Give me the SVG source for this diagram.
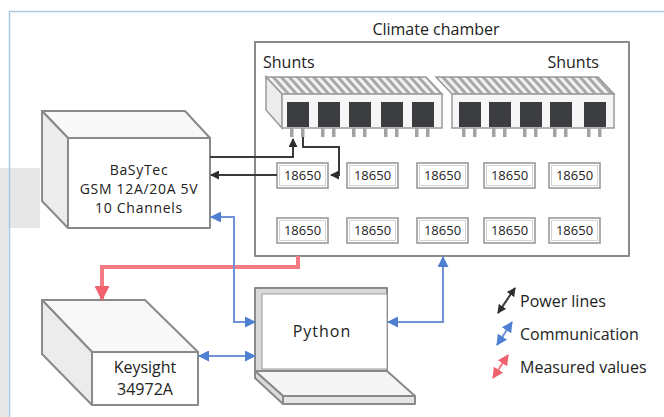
<svg xmlns="http://www.w3.org/2000/svg" width="664" height="417" viewBox="0 0 664 417">
  <style>
    text { font-family: "Open Sans", "Liberation Sans", sans-serif; fill: #222; }
    .lbl { font-size: 16px; }
    .dev { font-size: 14px; letter-spacing: 0.7px; text-anchor: middle; }
    .cell-t { font-size: 13px; text-anchor: middle; }
    .edge { stroke: #8a8a8a; stroke-width: 2; stroke-linejoin: round; }
    .cell-o { fill: #fff; stroke: #9a9a9a; stroke-width: 1.6; }
    .cell-i { fill: none; stroke: #d4d4d4; stroke-width: 1; }
    .sq { fill: #3b3d40; }
    .pin { fill: #a3a3a3; }
    .pwr { fill: none; stroke: #3a3a3a; stroke-width: 2; }
    .com { fill: none; stroke: #6f93d6; stroke-width: 2; }
    .mea { fill: none; stroke: #f47a84; stroke-width: 4; }
  </style>
  <defs>
    <pattern id="fins" width="6" height="6" patternUnits="userSpaceOnUse" patternTransform="rotate(-42)">
      <rect width="6" height="6" fill="#f2f2f2"/>
      <rect width="3" height="6" fill="#a9a9a9"/>
    </pattern>
    <marker id="ahP" markerUnits="userSpaceOnUse" markerWidth="9" markerHeight="9" refX="8" refY="4.5" orient="auto-start-reverse">
      <path d="M0,0 L9,4.5 L0,9 z" fill="#2e2e2e"/>
    </marker>
    <marker id="ahC" markerUnits="userSpaceOnUse" markerWidth="11" markerHeight="11" refX="10" refY="5.5" orient="auto-start-reverse">
      <path d="M0,0 L11,5.5 L0,11 z" fill="#4f7fd0"/>
    </marker>
    <marker id="ahM" markerUnits="userSpaceOnUse" markerWidth="15" markerHeight="15" refX="13" refY="7.5" orient="auto-start-reverse">
      <path d="M0,0 L15,7.5 L0,15 z" fill="#f0606d"/>
    </marker>
    <marker id="ahL" markerUnits="userSpaceOnUse" markerWidth="11" markerHeight="11" refX="10" refY="5.5" orient="auto-start-reverse">
      <path d="M0,0 L11,5.5 L0,11 z" fill="#f0606d"/>
    </marker>
  </defs>

  <!-- page frame -->
  <rect x="0" y="0" width="664" height="417" fill="#fff"/>
  <rect x="0" y="168" width="40" height="60" fill="#e7e7e7"/>
  <rect x="0" y="168" width="8.5" height="249" fill="#e7e7e7"/>
  <path d="M9.5,417 V11.5 H664" fill="none" stroke="#a9cbe2" stroke-width="1.5"/>

  <!-- climate chamber -->
  <g id="chamber">
    <rect x="255" y="42" width="374" height="214" fill="#fff" class="edge"/>
    <text x="436" y="35" class="lbl" text-anchor="middle">Climate chamber</text>
    <text x="263" y="68" class="lbl">Shunts</text>
    <text x="599" y="68" class="lbl" text-anchor="end">Shunts</text>
  </g>

  <!-- right shunt block -->
  <g id="shunts-right">
    <polygon points="452,94 614,94 598,77 436,77" fill="url(#fins)" stroke="#9a9a9a" stroke-width="1.5"/>
    <rect x="452" y="94" width="162" height="34" fill="#f6f6f6" stroke="#9a9a9a" stroke-width="1.5"/>
    <g class="sq">
      <rect x="459" y="102" width="22" height="25"/>
      <rect x="489" y="102" width="22" height="25"/>
      <rect x="520" y="102" width="22" height="25"/>
      <rect x="550" y="102" width="22" height="25"/>
      <rect x="584" y="102" width="22" height="25"/>
    </g>
    <g class="pin">
      <rect x="462" y="128" width="3.5" height="9"/><rect x="473" y="128" width="3.5" height="9"/>
      <rect x="492" y="128" width="3.5" height="9"/><rect x="503" y="128" width="3.5" height="9"/>
      <rect x="523" y="128" width="3.5" height="9"/><rect x="534" y="128" width="3.5" height="9"/>
      <rect x="553" y="128" width="3.5" height="9"/><rect x="564" y="128" width="3.5" height="9"/>
      <rect x="587" y="128" width="3.5" height="9"/><rect x="598" y="128" width="3.5" height="9"/>
    </g>
  </g>

  <!-- left shunt block -->
  <g id="shunts-left">
    <polygon points="282,94 442,94 426,77 266,77" fill="url(#fins)" stroke="#9a9a9a" stroke-width="1.5"/>
    <polygon points="282,94 266,77 266,110 282,128" fill="#ececec" stroke="#9a9a9a" stroke-width="1.5"/>
    <rect x="282" y="94" width="160" height="34" fill="#f6f6f6" stroke="#9a9a9a" stroke-width="1.5"/>
    <g class="sq">
      <rect x="287" y="102" width="22" height="25"/>
      <rect x="318" y="102" width="22" height="25"/>
      <rect x="349" y="102" width="22" height="25"/>
      <rect x="381" y="102" width="22" height="25"/>
      <rect x="412" y="102" width="22" height="25"/>
    </g>
    <g class="pin">
      <rect x="290" y="128" width="3.5" height="9"/><rect x="301" y="128" width="3.5" height="9"/>
      <rect x="321" y="128" width="3.5" height="9"/><rect x="332" y="128" width="3.5" height="9"/>
      <rect x="352" y="128" width="3.5" height="9"/><rect x="363" y="128" width="3.5" height="9"/>
      <rect x="384" y="128" width="3.5" height="9"/><rect x="395" y="128" width="3.5" height="9"/>
      <rect x="415" y="128" width="3.5" height="9"/><rect x="426" y="128" width="3.5" height="9"/>
    </g>
  </g>

  <!-- 18650 cells, two rows of five -->
  <g id="cells">
    <g id="cell-1"><rect x="277" y="163" width="51" height="25" class="cell-o"/><rect x="279.5" y="165.5" width="46" height="20" class="cell-i"/><text x="302.5" y="180" class="cell-t">18650</text></g>
    <g id="cell-2"><rect x="347" y="163" width="51" height="25" class="cell-o"/><rect x="349.5" y="165.5" width="46" height="20" class="cell-i"/><text x="372.5" y="180" class="cell-t">18650</text></g>
    <g id="cell-3"><rect x="417" y="163" width="51" height="25" class="cell-o"/><rect x="419.5" y="165.5" width="46" height="20" class="cell-i"/><text x="442.5" y="180" class="cell-t">18650</text></g>
    <g id="cell-4"><rect x="484" y="163" width="51" height="25" class="cell-o"/><rect x="486.5" y="165.5" width="46" height="20" class="cell-i"/><text x="509.5" y="180" class="cell-t">18650</text></g>
    <g id="cell-5"><rect x="549" y="163" width="51" height="25" class="cell-o"/><rect x="551.5" y="165.5" width="46" height="20" class="cell-i"/><text x="574.5" y="180" class="cell-t">18650</text></g>
    <g id="cell-6"><rect x="277" y="218" width="51" height="25" class="cell-o"/><rect x="279.5" y="220.5" width="46" height="20" class="cell-i"/><text x="302.5" y="235" class="cell-t">18650</text></g>
    <g id="cell-7"><rect x="347" y="218" width="51" height="25" class="cell-o"/><rect x="349.5" y="220.5" width="46" height="20" class="cell-i"/><text x="372.5" y="235" class="cell-t">18650</text></g>
    <g id="cell-8"><rect x="417" y="218" width="51" height="25" class="cell-o"/><rect x="419.5" y="220.5" width="46" height="20" class="cell-i"/><text x="442.5" y="235" class="cell-t">18650</text></g>
    <g id="cell-9"><rect x="484" y="218" width="51" height="25" class="cell-o"/><rect x="486.5" y="220.5" width="46" height="20" class="cell-i"/><text x="509.5" y="235" class="cell-t">18650</text></g>
    <g id="cell-10"><rect x="549" y="218" width="51" height="25" class="cell-o"/><rect x="551.5" y="220.5" width="46" height="20" class="cell-i"/><text x="574.5" y="235" class="cell-t">18650</text></g>
  </g>

  <!-- battery tester -->
  <g id="basytec">
    <polygon points="42,111 185,111 210,138 68,138" fill="#f8f8f8" class="edge"/>
    <polygon points="42,111 68,138 68,228 42,201" fill="#ececec" class="edge"/>
    <rect x="68" y="138" width="142" height="90" fill="#fff" class="edge"/>
    <text x="139" y="174.5" class="dev">BaSyTec</text>
    <text x="139" y="193.8" class="dev">GSM 12A/20A 5V</text>
    <text x="139" y="213.1" class="dev">10 Channels</text>
  </g>

  <!-- data logger -->
  <g id="keysight">
    <polygon points="42,300 145,300 198,352 92,352" fill="#f8f8f8" class="edge"/>
    <polygon points="42,300 92,352 92,405 42,354" fill="#ececec" class="edge"/>
    <rect x="92" y="352" width="106" height="53" fill="#fff" class="edge"/>
    <text x="145" y="373" class="lbl" text-anchor="middle">Keysight</text>
    <text x="145" y="395" class="lbl" text-anchor="middle">34972A</text>
  </g>

  <!-- laptop running the control software -->
  <g id="laptop">
    <polygon points="255,371 387,371 415,396 283,396" fill="#f5f5f5" class="edge"/>
    <polygon points="255,371 283,396 283,404 255,378" fill="#dcdcdc" class="edge"/>
    <rect x="283" y="396" width="132" height="8" fill="#e4e4e4" class="edge"/>
    <rect x="255" y="288" width="132" height="83" fill="#d9d9d9" class="edge"/>
    <rect x="262" y="294" width="125" height="75" fill="#fff" stroke="#9a9a9a" stroke-width="1"/>
    <text x="322" y="337" class="lbl" text-anchor="middle" letter-spacing="1">Python</text>
  </g>

  <!-- connections -->
  <g id="connectors">
    <path class="mea" d="M298,256 V267 H102 V299" marker-end="url(#ahM)"/>
    <path class="pwr" d="M210,157 H293 V139" marker-end="url(#ahP)"/>
    <path class="pwr" d="M303,137 V147 H339 V175 H331" marker-end="url(#ahP)"/>
    <path class="pwr" d="M277,175 H211" marker-end="url(#ahP)"/>
    <path class="com" d="M211,217 H234 V322 H255" marker-start="url(#ahC)" marker-end="url(#ahC)"/>
    <path class="com" d="M199,356 H255" marker-start="url(#ahC)" marker-end="url(#ahC)"/>
    <path class="com" d="M388,322 H443 V257" marker-start="url(#ahC)" marker-end="url(#ahC)"/>
  </g>

  <!-- legend -->
  <g id="legend">
    <path class="pwr" d="M498,313 L515,288" marker-start="url(#ahP)" marker-end="url(#ahP)"/>
    <path class="com" d="M497,345 L512,322" marker-start="url(#ahC)" marker-end="url(#ahC)"/>
    <path d="M493,378 L508,355" fill="none" stroke="#f47a84" stroke-width="2" marker-start="url(#ahL)" marker-end="url(#ahL)"/>
    <text x="520" y="307" class="lbl">Power lines</text>
    <text x="520" y="340" class="lbl">Communication</text>
    <text x="520" y="373" class="lbl">Measured values</text>
  </g>
</svg>
